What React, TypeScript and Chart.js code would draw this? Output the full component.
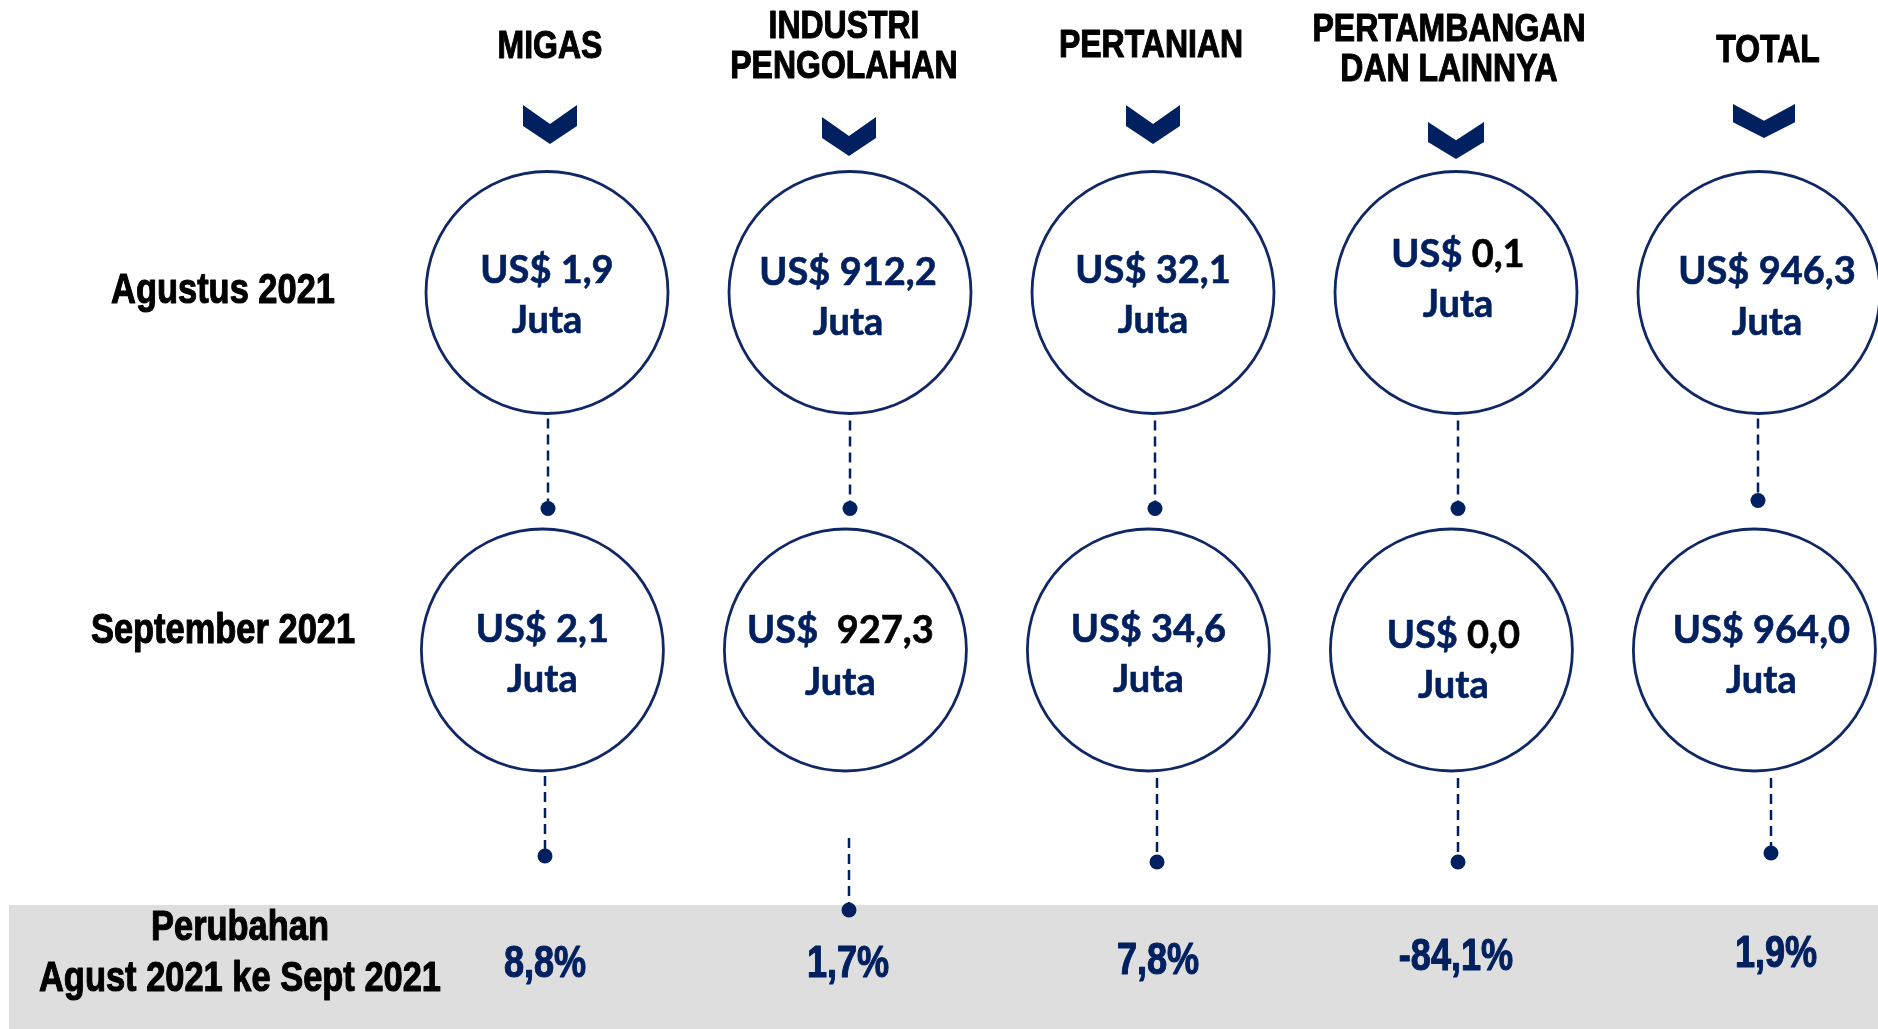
import React, { useEffect, useRef } from "react";
import { Chart, registerables } from "chart.js";

Chart.register(...registerables);

// ---------------- DATA ----------------
const categories: string[][] = [
  ["MIGAS"],
  ["INDUSTRI", "PENGOLAHAN"],
  ["PERTANIAN"],
  ["PERTAMBANGAN", "DAN LAINNYA"],
  ["TOTAL"],
];
const periods = ["Agustus 2021", "September 2021"];
const augustValues = [1.9, 912.2, 32.1, 0.1, 946.3];
const septemberValues = [2.1, 927.3, 34.6, 0.0, 964.0];
const changePct = [8.8, 1.7, 7.8, -84.1, 1.9];
const changeLabel = ["Perubahan", "Agust 2021 ke Sept 2021"];
const unitPrefix = "US$";
const unitSuffix = "Juta";

// ---------------- LAYOUT / STYLE ----------------
const W = 1878;
const H = 1029;
const COL_PX = 303; // pixels per category unit
const ROW_PX = 357.5; // pixels per row unit
const X_MIN = -547 / COL_PX;
const Y_MIN = -292.5 / ROW_PX;
const ROW_X_SHIFT = [0, -4.6 / COL_PX];
const CIRCLE_R = 121;
const NAVY = "#002060";
const CIRCLE_COLOR = "#102766";
const BAND_COLOR = "#dedede";
const BAND_LEFT = 9;
const BAND_TOP = 905;

// header text layout
const HEADER_DX = [3, -6, -2, -7, 9];
const HEADER_Y = [[47], [27, 67], [46], [30, 70], [51]];
const CHEVRON = [
  { dx: 3, top: 105, w: 54, h: 39 },
  { dx: -1, top: 117, w: 54, h: 39 },
  { dx: 0, top: 105, w: 54, h: 39 },
  { dx: 0, top: 122, w: 56, h: 37 },
  { dx: 5, top: 104, w: 62, h: 34 },
];
// text line offsets inside circles [row][col] = [line1, line2] relative to centre
const TEXT_DY = [
  [[-22, 28], [-20, 30], [-22, 28], [-38, 12], [-21, 30]],
  [[-20, 30], [-19, 33], [-20, 30], [-14, 36], [-19, 31]],
];
const TEXT_DX = [
  [0, -2, 0, 2, 8],
  [0, -5, 0, 2, 7],
];
const NUMBER_BLACK = [
  [false, false, false, true, false],
  [false, true, false, true, false],
];
const EXTRA_GAP = [
  [false, false, false, false, false],
  [false, true, false, false, false],
];
// connectors [row][col] = {dx, start, dot} pixels relative to the circle centre (y) and column (x)
const CONNECTORS = [
  [
    { dx: 1, start: 126, dot: 216 },
    { dx: 0, start: 128, dot: 216 },
    { dx: 2, start: 128, dot: 216 },
    { dx: 2, start: 128, dot: 216 },
    { dx: -1, start: 126, dot: 208 },
  ],
  [
    { dx: -2, start: 126, dot: 206 },
    { dx: -1, start: 188, dot: 260 },
    { dx: 4, start: 128, dot: 212 },
    { dx: 2, start: 128, dot: 212 },
    { dx: 12, start: 128, dot: 203 },
  ],
];
const ROW_LABEL_X = 223;
const ROW_LABEL_Y = [291, 631];
const CHANGE_LABEL_X = 240;
const CHANGE_LABEL_Y = [928, 979];
const CHANGE_DX = [-2, -2, 5, 0, 17];
const CHANGE_Y = [965, 965, 962, 958, 955];

const fmt = (v: number) => v.toFixed(1).replace(".", ",");

function narrowText(
  ctx: CanvasRenderingContext2D,
  text: string,
  x: number,
  y: number,
  size: number,
  color: string,
  sx = 0.82
) {
  ctx.save();
  ctx.translate(x, y);
  ctx.scale(sx, 1);
  ctx.font = `bold ${size}px "Liberation Sans", Arial, sans-serif`;
  ctx.fillStyle = color;
  ctx.strokeStyle = color;
  ctx.lineWidth = 1.1;
  ctx.lineJoin = "round";
  ctx.textAlign = "center";
  ctx.textBaseline = "middle";
  ctx.fillText(text, 0, 0);
  ctx.strokeText(text, 0, 0);
  ctx.restore();
}

const infographicPlugin = {
  id: "infographic",
  beforeDatasetsDraw(chart: any) {
    const { ctx } = chart;
    ctx.save();
    ctx.fillStyle = BAND_COLOR;
    ctx.fillRect(BAND_LEFT, BAND_TOP, chart.width - BAND_LEFT, chart.height - BAND_TOP);
    ctx.restore();
  },
  afterDatasetsDraw(chart: any) {
    const { ctx } = chart;
    const xs = chart.scales.x;
    // headers + chevrons
    categories.forEach((lines, i) => {
      const cx = xs.getPixelForValue(i);
      lines.forEach((t, k) => {
        narrowText(ctx, t, cx + HEADER_DX[i], HEADER_Y[i][k], 39, "#000000");
      });
      const c = CHEVRON[i];
      const x0 = cx + c.dx - c.w / 2;
      const x1 = cx + c.dx + c.w / 2;
      const mx = cx + c.dx;
      const notch = c.h * 0.49;
      const side = c.h * 0.54;
      ctx.save();
      ctx.fillStyle = NAVY;
      ctx.beginPath();
      ctx.moveTo(x0, c.top);
      ctx.lineTo(mx, c.top + notch);
      ctx.lineTo(x1, c.top);
      ctx.lineTo(x1, c.top + side);
      ctx.lineTo(mx, c.top + c.h);
      ctx.lineTo(x0, c.top + side);
      ctx.closePath();
      ctx.fill();
      ctx.restore();
    });
    // row labels
    periods.forEach((p, r) => {
      narrowText(ctx, p, ROW_LABEL_X, ROW_LABEL_Y[r], 42, "#000000");
    });
    // circle texts
    [augustValues, septemberValues].forEach((vals, r) => {
      const meta = chart.getDatasetMeta(r);
      vals.forEach((v, i) => {
        const el = meta.data[i];
        const cx = el.x + TEXT_DX[r][i];
        const cy = el.y;
        ctx.save();
        ctx.font = `bold 38px Lato, "Open Sans", sans-serif`;
        ctx.textBaseline = "middle";
        ctx.textAlign = "left";
        ctx.lineWidth = 0.6;
        const pre = unitPrefix + (EXTRA_GAP[r][i] ? "  " : " ");
        const num = fmt(v);
        const wPre = ctx.measureText(pre).width;
        const wNum = ctx.measureText(num).width;
        const start = cx - (wPre + wNum) / 2;
        const y1 = cy + TEXT_DY[r][i][0];
        ctx.fillStyle = NAVY;
        ctx.strokeStyle = NAVY;
        ctx.fillText(pre, start, y1);
        ctx.strokeText(pre, start, y1);
        const numColor = NUMBER_BLACK[r][i] ? "#000000" : NAVY;
        ctx.fillStyle = numColor;
        ctx.strokeStyle = numColor;
        ctx.fillText(num, start + wPre, y1);
        ctx.strokeText(num, start + wPre, y1);
        ctx.textAlign = "center";
        ctx.fillStyle = NAVY;
        ctx.strokeStyle = NAVY;
        ctx.fillText(unitSuffix, cx, cy + TEXT_DY[r][i][1]);
        ctx.strokeText(unitSuffix, cx, cy + TEXT_DY[r][i][1]);
        ctx.restore();
      });
    });
    // change label + values
    changeLabel.forEach((t, k) => {
      narrowText(ctx, t, CHANGE_LABEL_X, CHANGE_LABEL_Y[k], 42, "#000000");
    });
    changePct.forEach((v, i) => {
      const cx = xs.getPixelForValue(i);
      narrowText(ctx, fmt(v) + "%", cx + CHANGE_DX[i], CHANGE_Y[i], 44, NAVY);
    });
  },
};

export default function App() {
  const ref = useRef<HTMLCanvasElement>(null);
  useEffect(() => {
    document.body.style.margin = "0";
    document.body.style.overflow = "hidden";
    const canvas = ref.current!;
    const datasets: any[] = [];
    [augustValues, septemberValues].forEach((vals, r) => {
      datasets.push({
        label: periods[r],
        data: vals.map((v, i) => ({ x: i + ROW_X_SHIFT[r], y: r, v })),
        pointRadius: CIRCLE_R,
        pointBackgroundColor: "#ffffff",
        pointBorderColor: CIRCLE_COLOR,
        pointBorderWidth: 2.8,
        showLine: false,
        clip: false,
      });
    });
    CONNECTORS.forEach((row, r) => {
      row.forEach((c, i) => {
        datasets.push({
          label: `conn-${r}-${i}`,
          data: [
            { x: i + c.dx / COL_PX, y: r + c.start / ROW_PX },
            { x: i + c.dx / COL_PX, y: r + c.dot / ROW_PX },
          ],
          showLine: true,
          borderColor: NAVY,
          borderWidth: 2.5,
          borderDash: [10, 6],
          pointRadius: [0, 7.5],
          pointBackgroundColor: NAVY,
          pointBorderWidth: 0,
          clip: false,
        });
      });
    });
    const chart = new Chart(canvas, {
      type: "scatter",
      data: { datasets },
      options: {
        animation: false,
        responsive: false,
        devicePixelRatio: 1,
        events: [],
        layout: { padding: 0, autoPadding: false },
        plugins: { legend: { display: false }, tooltip: { enabled: false } },
        scales: {
          x: { type: "linear", display: false, min: X_MIN, max: X_MIN + W / COL_PX },
          y: { type: "linear", display: false, reverse: true, min: Y_MIN, max: Y_MIN + H / ROW_PX },
        },
      },
      plugins: [infographicPlugin],
    } as any);
    const fonts = (document as any).fonts;
    if (fonts && fonts.load) {
      Promise.all([
        fonts.load('bold 38px Lato'),
        fonts.load('bold 40px "Liberation Sans"'),
      ])
        .then(() => chart.draw())
        .catch(() => {});
    }
    return () => chart.destroy();
  }, []);
  return (
    <div style={{ position: "absolute", left: 0, top: 0, width: W, height: H, background: "#ffffff" }}>
      <canvas ref={ref} width={W} height={H} style={{ display: "block", width: W, height: H }} />
    </div>
  );
}
